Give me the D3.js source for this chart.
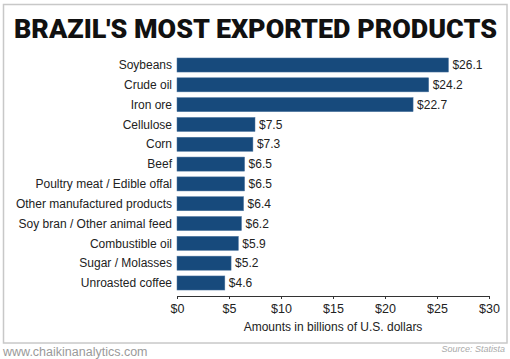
<!DOCTYPE html>
<html><head><meta charset="utf-8">
<script src="https://cdn.jsdelivr.net/npm/d3@7"></script>
<style>
html,body{margin:0;padding:0;background:#fff;}
svg{display:block;}
</style></head>
<body>
<script>
const categories = ["Soybeans","Crude oil","Iron ore","Cellulose","Corn","Beef","Poultry meat / Edible offal","Other manufactured products","Soy bran / Other animal feed","Combustible oil","Sugar / Molasses","Unroasted coffee"];
const values = [26.1,24.2,22.7,7.5,7.3,6.5,6.5,6.4,6.2,5.9,5.2,4.6];
const tickValues = [0,5,10,15,20,25,30];
const tickLabels = ["$0","$5","$10","$15","$20","$25","$30"];
const title = "BRAZIL'S MOST EXPORTED PRODUCTS";
const axisTitle = "Amounts in billions of U.S. dollars";
const site = "www.chaikinanalytics.com";
const source = "Source: Statista";

const W = 510, H = 359;
const svg = d3.select("body").append("svg").attr("width", W).attr("height", H);
const font = "'Liberation Sans', Arial, sans-serif";

svg.append("rect").attr("x",3.5).attr("y",4.5).attr("width",503.5).attr("height",338.5)
  .attr("fill","#fff").attr("stroke","#c8c8c8").attr("stroke-width",1.5);

svg.append("text").attr("x",14).attr("y",38).text(title)
  .attr("font-family","Roboto, 'Liberation Sans', sans-serif").attr("font-weight",900)
  .attr("font-size",25).attr("fill","#111")
  .attr("textLength",483).attr("lengthAdjust","spacingAndGlyphs");

const x = d3.scaleLinear().domain([0,30]).range([177,489]);
const y = d3.scaleBand().domain(categories).range([55.1,292.9]).paddingInner(0.29).paddingOuter(0.145);

svg.selectAll("rect.bar").data(categories).enter().append("rect").attr("class","bar")
  .attr("x", x(0)).attr("y", d=>y(d))
  .attr("width", (d,i)=>x(values[i])-x(0)).attr("height", y.bandwidth())
  .attr("fill","#174a7c").attr("stroke","#4f76a0").attr("stroke-width",0.5);

svg.selectAll("text.cat").data(categories).enter().append("text").attr("class","cat")
  .attr("x",172).attr("y", d=>y(d)+y.bandwidth()/2).attr("dy","0.35em")
  .attr("text-anchor","end").attr("font-family",font).attr("font-size",12).attr("fill","#222")
  .text(d=>d);

svg.selectAll("text.val").data(categories).enter().append("text").attr("class","val")
  .attr("x",(d,i)=>x(values[i])+4).attr("y", d=>y(d)+y.bandwidth()/2).attr("dy","0.35em")
  .attr("font-family",font).attr("font-size",12).attr("fill","#222")
  .text((d,i)=>"$"+values[i].toFixed(1));

const axis = d3.axisBottom(x).tickValues(tickValues).tickSize(3).tickSizeOuter(0)
  .tickFormat((d,i)=>tickLabels[i]);
const ag = svg.append("g").attr("transform","translate(0,296)").call(axis);
ag.select(".domain").attr("stroke","#333").attr("stroke-width",1.2);
ag.selectAll(".tick line").attr("stroke","#333");
ag.selectAll(".tick text").attr("font-family",font).attr("font-size",12.5).attr("fill","#222").attr("dy","0.9em");

svg.append("text").attr("x",333).attr("y",331).attr("text-anchor","middle")
  .attr("font-family",font).attr("font-size",12).attr("fill","#222").text(axisTitle);

svg.append("text").attr("x",3).attr("y",356).attr("font-family",font).attr("font-size",12.5)
  .attr("fill","#9a9a9a").text(site);
svg.append("text").attr("x",505).attr("y",352).attr("text-anchor","end").attr("font-family",font)
  .attr("font-size",9).attr("font-style","italic").attr("fill","#aaa").text(source);
</script>
</body></html>
